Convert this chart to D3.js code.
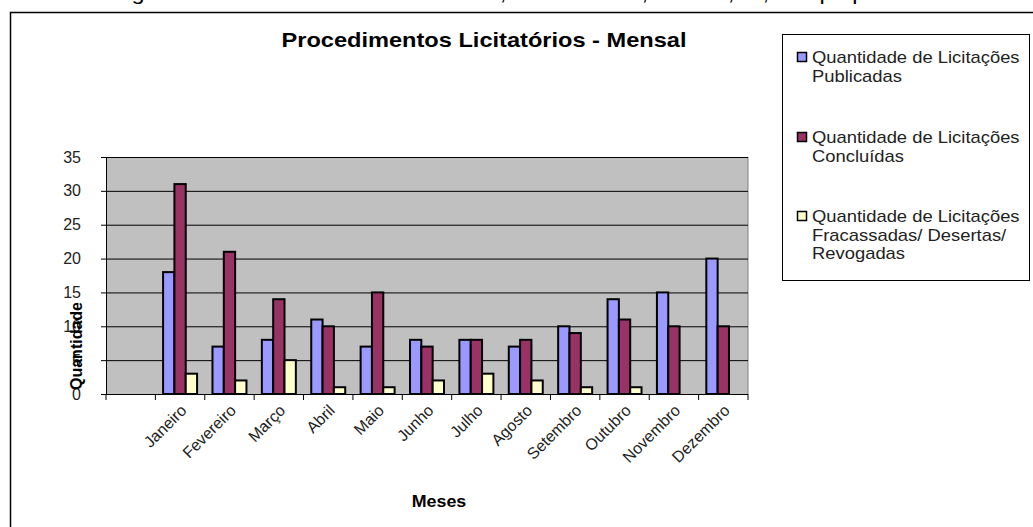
<!DOCTYPE html>
<html>
<head>
<meta charset="utf-8">
<script src="https://cdn.jsdelivr.net/npm/d3@7"></script>
<style>
  body { margin: 0; background: #fff; }
  text { font-family: Arial, "Liberation Sans", sans-serif; }
</style>
</head>
<body>
<div id="graph"></div>
<script>
// months (first slot of the category axis is empty in the original)
const months = ['', 'Janeiro', 'Fevereiro', 'Março', 'Abril', 'Maio', 'Junho',
                'Julho', 'Agosto', 'Setembro', 'Outubro', 'Novembro', 'Dezembro'];

const publicadas  = [null, 18, 7, 8, 11, 7, 8, 8, 7, 10, 14, 15, 20];
const concluidas  = [null, 31, 21, 14, 10, 15, 7, 8, 8, 9, 11, 10, 10];
const fracassadas = [null, 3, 2, 5, 1, 1, 2, 3, 2, 1, 1, null, null];

const seriesNames = [
  ['Quantidade de Licitações', 'Publicadas'],
  ['Quantidade de Licitações', 'Concluídas'],
  ['Quantidade de Licitações', 'Fracassadas/ Desertas/', 'Revogadas']
];
const yTicks = [0, 5, 10, 15, 20, 25, 30, 35];

const width = 1033, height = 527;
const plot = { left: 106, right: 748, top: 157, bottom: 394 };
const colors = ['#9999FF', '#993366', '#FFFFCC'];
const stretch = 1.15; // the source picture is a bit wider than tall

const svg = d3.select('#graph')
  .append('svg')
    .attr('width', width)
    .attr('height', height);

svg.append('rect')
  .attr('width', width)
  .attr('height', height)
  .attr('fill', '#fff');

// caption line, cut off at the top of the page like in the scan
svg.append('text')
  .attr('x', 112)
  .attr('y', 0)
  .attr('font-family', '"Open Sans", sans-serif')
  .attr('font-size', 20)
  .attr('textLength', 825)
  .attr('lengthAdjust', 'spacingAndGlyphs')
  .text('Figura 6 – Procedimentos Licitatórios, 2º Semestre, Interno, nº, Tempo por mês');

// frame around the chart object
svg.append('rect')
  .attr('x', 10.5)
  .attr('y', 12.5)
  .attr('width', 1100)
  .attr('height', 600)
  .attr('fill', 'none')
  .attr('stroke', '#000')
  .attr('stroke-width', 1.5);

const x = d3.scaleBand()
  .domain(months)
  .range([plot.left, plot.right]);

const xSub = d3.scaleBand()
  .domain([0, 1, 2])
  .range([0, x.bandwidth()])
  .paddingOuter(0.68);

const y = d3.scaleLinear()
  .domain([0, 35])
  .range([plot.bottom, plot.top]);

// plot background
svg.append('rect')
  .attr('x', plot.left)
  .attr('y', plot.top)
  .attr('width', plot.right - plot.left)
  .attr('height', plot.bottom - plot.top)
  .attr('fill', '#C0C0C0');

svg.append('line')
  .attr('x1', plot.right).attr('x2', plot.right)
  .attr('y1', plot.top).attr('y2', plot.bottom)
  .attr('stroke', '#808080');

svg.selectAll('.grid')
  .data(yTicks.slice(1))
  .enter()
    .append('line')
    .attr('x1', plot.left)
    .attr('x2', plot.right)
    .attr('y1', (d) => y(d) + 0.5)
    .attr('y2', (d) => y(d) + 0.5)
    .attr('stroke', '#000')
    .attr('stroke-width', 1);

// bars
const series = [publicadas, concluidas, fracassadas];
series.forEach((values, s) => {
  svg.append('g')
    .selectAll('rect')
    .data(values.map((v, i) => ({ month: months[i], value: v })).filter((d) => d.value !== null))
    .enter()
      .append('rect')
      .attr('x', (d) => x(d.month) + xSub(s))
      .attr('y', (d) => y(d.value))
      .attr('width', xSub.bandwidth())
      .attr('height', (d) => y(0) - y(d.value))
      .attr('fill', colors[s])
      .attr('stroke', '#000')
      .attr('stroke-width', 2);
});

// y axis
const yAxis = svg.append('g')
  .attr('transform', `translate(${plot.left},0)`)
  .call(d3.axisLeft(y).tickValues(yTicks).tickSize(5).tickPadding(20));

yAxis.select('.domain').attr('stroke', '#000');
yAxis.selectAll('text')
  .attr('font-size', 16)
  .attr('fill', '#222')
  .attr('font-family', 'Arial, "Liberation Sans", sans-serif');

// x axis: ticks on category boundaries
const xAxis = svg.append('g');
xAxis.append('line')
  .attr('x1', plot.left).attr('x2', plot.right)
  .attr('y1', plot.bottom + 0.5).attr('y2', plot.bottom + 0.5)
  .attr('stroke', '#000');

xAxis.selectAll('.tick')
  .data(months.concat(['end']))
  .enter()
    .append('line')
    .attr('x1', (d, i) => plot.left + i * x.step())
    .attr('x2', (d, i) => plot.left + i * x.step())
    .attr('y1', plot.bottom)
    .attr('y2', plot.bottom + 6)
    .attr('stroke', '#000');

xAxis.selectAll('.label')
  .data(months.slice(1))
  .enter()
    .append('text')
    .attr('transform', (d) => `translate(${x(d) + x.bandwidth() / 2 - 1},${plot.bottom + 9}) rotate(-45)`)
    .attr('dy', '0.75em')
    .attr('text-anchor', 'end')
    .attr('font-size', 16)
    .attr('fill', '#222')
    .text((d) => d);

// titles
svg.append('text')
  .attr('transform', `translate(484,47) scale(${stretch + 0.03},1)`)
  .attr('text-anchor', 'middle')
  .attr('font-size', 20)
  .attr('font-weight', 'bold')
  .text('Procedimentos Licitatórios - Mensal');

svg.append('text')
  .attr('transform', `translate(439,507) scale(1.05,1)`)
  .attr('text-anchor', 'middle')
  .attr('font-size', 17)
  .attr('font-weight', 'bold')
  .text('Meses');

svg.append('text')
  .attr('transform', 'translate(82,346) rotate(-90)')
  .attr('text-anchor', 'middle')
  .attr('font-size', 16)
  .attr('font-weight', 'bold')
  .text('Quantidade');

// legend
const legend = svg.append('g');
legend.append('rect')
  .attr('x', 782.5)
  .attr('y', 34.5)
  .attr('width', 247)
  .attr('height', 246)
  .attr('fill', '#fff')
  .attr('stroke', '#000');

const legendTop = [63, 143, 222];
seriesNames.forEach((lines, s) => {
  legend.append('rect')
    .attr('x', 797.5)
    .attr('y', legendTop[s] - 10.5)
    .attr('width', 9)
    .attr('height', 9)
    .attr('fill', colors[s])
    .attr('stroke', '#000')
    .attr('stroke-width', 1.5);

  legend.selectAll(null)
    .data(lines)
    .enter()
      .append('text')
      .attr('transform', (d, i) => `translate(812,${legendTop[s] + i * 18.5}) scale(${stretch},1)`)
      .attr('font-size', 16)
      .attr('fill', '#222')
      .text((d) => d);
});
</script>
</body>
</html>
